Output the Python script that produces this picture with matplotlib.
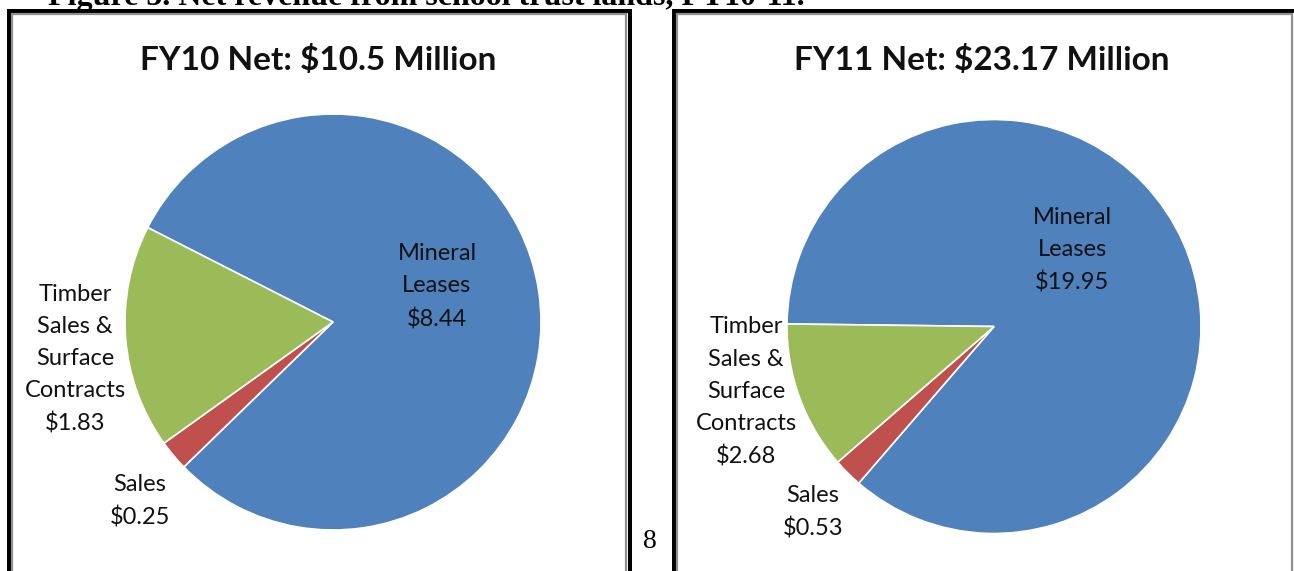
import matplotlib
matplotlib.use("Agg")
import matplotlib.pyplot as plt
from matplotlib.patches import Rectangle

W, H = 1294, 571

categories = ["Mineral\nLeases", "Sales", "Timber\nSales &\nSurface\nContracts"]
fy10_values = [8.44, 0.25, 1.83]
fy11_values = [19.95, 0.53, 2.68]
chart_titles = ["FY10 Net: $10.5 Million", "FY11 Net: $23.17 Million"]
figure_caption = "Figure 5. Net revenue from school trust lands, FY10-11."
page_number = "8"

colors = ["#4F81BD", "#C0504D", "#9BBB59"]

fig = plt.figure(figsize=(W / 100, H / 100), dpi=100)
fig.patch.set_facecolor("white")


def fx(x):
    return x / W


def fy(y):
    return 1 - y / H


def px2pt(p):
    return p * 72 / 100


def box(x0, y0, x1, y1, color, lw):
    r = Rectangle((fx(x0), fy(y1)), fx(x1) - fx(x0), fy(y0) - fy(y1),
                  transform=fig.transFigure, fill=False, edgecolor=color,
                  linewidth=px2pt(lw), clip_on=False)
    fig.add_artist(r)


# panel frames
box(9, 11, 630, 700, "black", 4)
box(11.5, 14, 626, 700, "#909090", 2.2)
box(674, 11, 1310, 700, "black", 4)
box(677, 14, 1291.5, 700, "#909090", 2.2)

fig.text(fx(48), fy(5), figure_caption, family="Liberation Serif",
         fontweight="bold", fontsize=23, ha="left", va="baseline")
fig.text(fx(650), fy(541), page_number, family="Liberation Serif",
         fontsize=20, ha="center", va="center")

panels = [
    dict(values=fy10_values, title=chart_titles[0], cx=333, cy=322, R=208,
         start=153, tx=318.5,
         lab=[(0.50, 0.17), (-0.93, -0.86), (-1.24, -0.18)]),
    dict(values=fy11_values, title=chart_titles[1], cx=994, cy=326.5, R=207,
         start=179.3, tx=981.5,
         lab=[(0.377, 0.37), (-0.874, -0.896), (-1.198, -0.316)]),
]

for p in panels:
    R = p["R"]
    ax = fig.add_axes([fx(p["cx"] - R), fy(p["cy"] + R), 2 * R / W, 2 * R / H])
    ax.pie(p["values"], colors=colors, startangle=p["start"], counterclock=False,
           radius=1, wedgeprops=dict(edgecolor="white", linewidth=1.2))
    ax.set_xlim(-1, 1)
    ax.set_ylim(-1, 1)
    ax.set_aspect("equal")
    ax.axis("off")
    for cat, v, (lx, ly) in zip(categories, p["values"], p["lab"]):
        ax.text(lx, ly, f"{cat}\n${v:.2f}", family="Lato", fontsize=17,
                ha="center", va="center", multialignment="center",
                linespacing=1.65, color="#111111", clip_on=False)
    fig.text(fx(p["tx"]), fy(60), p["title"], family="Lato", fontweight="bold",
             fontsize=24, ha="center", va="center", color="#111111")

fig.savefig("out.png", dpi=100, facecolor="white")
